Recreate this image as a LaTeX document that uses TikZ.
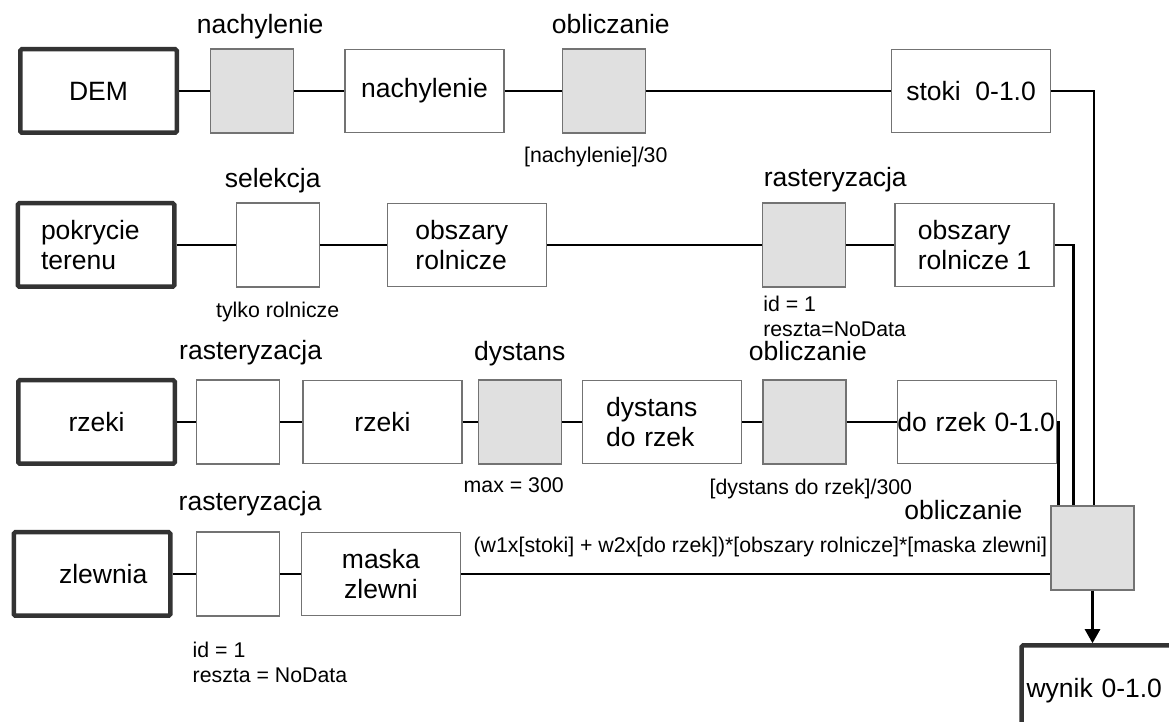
\documentclass[tikz,border=0pt]{standalone}
\usepackage{fontspec}
\setmainfont{Liberation Sans}
\usepackage{tikz}
\usetikzlibrary{arrows.meta,positioning}

\begin{document}
\begin{tikzpicture}[x=1pt, y=1pt,
  box/.style={rectangle, draw=black!55, line width=1.3pt, fill=white,
              minimum width=159pt, minimum height=83pt, inner sep=2pt, align=left,
              font={\fontsize{26.5}{30}\selectfont}},
  src/.style={box, draw=black!80, line width=4.5pt, rounded corners=1.5pt,
              minimum width=156.5pt, minimum height=83.5pt},
  op/.style={box, minimum width=83pt, minimum height=84pt},
  gop/.style={op, fill=black!12},
  lbl/.style={inner sep=0pt, text height=19pt, text depth=5.5pt,
              font={\fontsize{26.5}{30}\selectfont}},
  params/.style={inner sep=0pt, align=left, font={\fontsize{21.3}{25}\selectfont}},
  note/.style={params, text height=15.5pt, text depth=4.5pt},
  wire/.style={line width=2.5pt}
]
  \path[use as bounding box, fill=white] (0,0) rectangle (1169,722);

  % row 1: DEM
  \node[src] (D) at (98.5,631) {DEM};
  \node[gop, right=31pt of D]  (D1) {};
  \node[box, right=50pt of D1] (D2) {nachylenie};
  \node[gop, right=57pt of D2] (D3) {};
  \node[box, right=245pt of D3] (D4) {stoki\ \ 0-1.0};

  % row 2: pokrycie terenu
  \node[src, text width=110pt] (P) at (96,477) {pokrycie\\terenu};
  \node[op,  right=59pt of P]  (P1) {};
  \node[box, right=67pt of P1, text width=103pt] (P2) {obszary\\rolnicze};
  \node[gop, right=215pt of P2] (P3) {};
  \node[box, right=48pt of P3] (P4) {obszary\\rolnicze 1};

  % row 3: rzeki
  \node[src] (R) at (96.5,300) {rzeki};
  \node[op,  right=19pt of R]  (R1) {};
  \node[box, right=22pt of R1] (R2) {rzeki};
  \node[gop, right=15pt of R2] (R3) {};
  \node[box, right=20pt of R3, text width=112pt] (R4) {dystans\\do rzek};
  \node[gop, right=20pt of R4] (R5) {};
  \node[box, right=50pt of R5, text width=158.5pt, inner xsep=0pt] (R6) {do rzek 0-1.0};

  % row 4: zlewnia
  \node[src, text width=66pt] (Z) at (92,148) {zlewnia};
  \node[op,  right=23pt of Z]  (Z1) {};
  \node[box, right=21pt of Z1, align=center] (Z2) {maska\\zlewni};

  % final overlay and result
  \node[gop] (C) at (1092.5,174) {};
  \node[src, anchor=north west, minimum width=170pt, minimum height=90pt,
        text width=160pt, inner xsep=3pt] (W) at (1019.25,78.75) {wynik 0-1.0};

  % tool names and parameters
  \node[lbl] (tD1) at ([shift={(8,22)}]D1.north) {nachylenie};
  \node[lbl] (tD3) at ([shift={(7,22)}]D3.north) {obliczanie};
  \node[note] (nD3) at ([shift={(-8,-23)}]D3.south) {[nachylenie]/30};
  \node[lbl] (tP1) at ([shift={(-5,22)}]P1.north) {selekcja};
  \node[note] (nP1) at ([shift={(0,-24)}]P1.south) {tylko rolnicze};
  \node[lbl] (tP3) at ([shift={(31,23)}]P3.north) {rasteryzacja};
  \node[params, anchor=north west] (nP3) at ([shift={(1,-8)}]P3.south west) {id = 1\\reszta=NoData};
  \node[lbl] (tR1) at ([shift={(12.5,27)}]R1.north) {rasteryzacja};
  \node[lbl] (tR3) at ([shift={(0,26)}]R3.north) {dystans};
  \node[note] (nR3) at ([shift={(-6,-22)}]R3.south) {max = 300};
  \node[lbl] (tR5) at ([shift={(3.5,26)}]R5.north) {obliczanie};
  \node[note] (nR5) at ([shift={(6.5,-24)}]R5.south) {[dystans do rzek]/300};
  \node[lbl] (tZ1) at ([shift={(12.5,28)}]Z1.north) {rasteryzacja};
  \node[params, anchor=north west] (nZ1) at ([shift={(-3,-25)}]Z1.south west) {id = 1\\reszta = NoData};
  \node[lbl] (tC) at ([shift={(-87,-7)}]C.north west) {obliczanie};
  \node[note, anchor=east] (nC) at ([shift={(-3,1)}]C.west)
    {(w1x[stoki] + w2x[do rzek])*[obszary rolnicze]*[maska zlewni]};

  % connectors
  \draw[wire] (D) -- (D1) (D1) -- (D2) (D2) -- (D3) (D3) -- (D4);
  \draw[wire] (P) -- (P1) (P1) -- (P2) (P2) -- (P3) (P3) -- (P4);
  \draw[wire] (R) -- (R1) (R1) -- (R2) (R2) -- (R3) (R3) -- (R4) (R4) -- (R5) (R5) -- (R6);
  \draw[wire] (Z) -- (Z1) (Z1) -- (Z2);
  \draw[wire] (Z2) -- (Z2 -| C.west);
  \draw[wire] (D4.east) -| ([xshift=1.5pt]C.north);
  \draw[wire] (P4.east) -| ([xshift=-19pt]C.north);
  \draw[wire] (R6.east) -| ([xshift=-34pt]C.north);
  \draw[wire, -{Triangle[width=15pt,length=14pt]}] (C.south) -- (C.south |- W.north);
\end{tikzpicture}
\end{document}
